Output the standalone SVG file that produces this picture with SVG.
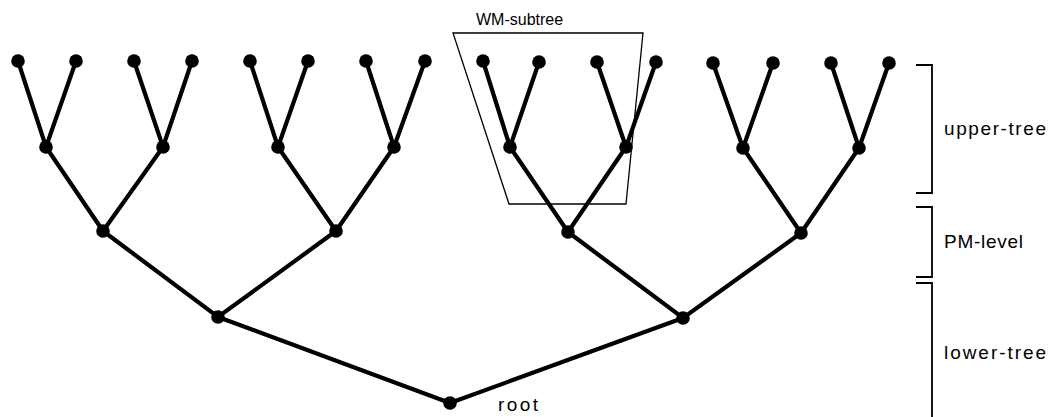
<svg xmlns="http://www.w3.org/2000/svg" width="1060" height="417" viewBox="0 0 1060 417">
  <style>
    .edge { stroke: #000; stroke-width: 4.2; stroke-linecap: round; fill: none; }
    .node circle { fill: #000; }
    .frame { stroke: #000; stroke-width: 1.3; fill: none; }
    .brace { stroke: #000; stroke-width: 1.8; fill: none; }
    .label { font-family: "Liberation Sans", Arial, sans-serif; font-size: 19px; fill: #000; }
    .title { font-family: "Liberation Sans", Arial, sans-serif; font-size: 16px; fill: #000; }
  </style>
  <rect width="1060" height="417" fill="#fff"/>

  <!-- WM-subtree outline -->
  <g id="wm-subtree">
    <polygon class="frame" points="453,33 643,33 626,204 509,204"/>
    <text class="title" x="476" y="25">WM-subtree</text>
  </g>

  <!-- tree edges -->
  <g id="connectors">
    <!-- leaves to level 1 -->
    <path class="edge" d="M18,61 L46,147 L76,61 M134,61 L163,147 L192,61 M250,61 L278,147 L308,61 M366,61 L394,147 L425,61 M483,61 L510,147 L539,62 M597,62 L626,147 L656,62 M713,63 L743,148 L773,63 M831,63 L859,148 L889,63"/>
    <!-- level 1 to PM level -->
    <path class="edge" d="M46,147 L103,231 L163,147 M278,147 L336,231 L394,147 M510,147 L568,232 L626,147 M743,148 L801,233 L859,148"/>
    <!-- PM level to lower tree -->
    <path class="edge" d="M103,231 L218,317 L336,231 M568,232 L683,318 L801,233"/>
    <!-- lower tree to root -->
    <path class="edge" d="M218,317 L450,403 L683,318"/>
  </g>

  <!-- leaf nodes -->
  <g id="leaves" class="node">
    <circle cx="18" cy="61" r="6.8"/><circle cx="76" cy="61" r="6.8"/>
    <circle cx="134" cy="61" r="6.8"/><circle cx="192" cy="61" r="6.8"/>
    <circle cx="250" cy="61" r="6.8"/><circle cx="308" cy="61" r="6.8"/>
    <circle cx="366" cy="61" r="6.8"/><circle cx="425" cy="61" r="6.8"/>
    <circle cx="483" cy="61" r="6.8"/><circle cx="539" cy="62" r="6.8"/>
    <circle cx="597" cy="62" r="6.8"/><circle cx="656" cy="62" r="6.8"/>
    <circle cx="713" cy="63" r="6.8"/><circle cx="773" cy="63" r="6.8"/>
    <circle cx="831" cy="63" r="6.8"/><circle cx="889" cy="63" r="6.8"/>
  </g>

  <!-- upper-tree inner nodes -->
  <g id="upper-nodes" class="node">
    <circle cx="46" cy="147" r="6.8"/><circle cx="163" cy="147" r="6.8"/>
    <circle cx="278" cy="147" r="6.8"/><circle cx="394" cy="147" r="6.8"/>
    <circle cx="510" cy="147" r="6.8"/><circle cx="626" cy="147" r="6.8"/>
    <circle cx="743" cy="148" r="6.8"/><circle cx="859" cy="148" r="6.8"/>
  </g>

  <!-- PM level nodes -->
  <g id="pm-nodes" class="node">
    <circle cx="103" cy="231" r="6.8"/><circle cx="336" cy="231" r="6.8"/>
    <circle cx="568" cy="232" r="6.8"/><circle cx="801" cy="233" r="6.8"/>
  </g>

  <!-- lower-tree nodes -->
  <g id="lower-nodes" class="node">
    <circle cx="218" cy="317" r="6.8"/><circle cx="683" cy="318" r="6.8"/>
  </g>

  <!-- root -->
  <g id="root" class="node">
    <circle cx="450" cy="403" r="6.8"/>
    <text class="label" x="498" y="411" textLength="40" lengthAdjust="spacing">root</text>
  </g>

  <!-- level brackets -->
  <g id="upper-tree">
    <path class="brace" d="M916,65 H932 V193 H916"/>
    <text class="label" x="944" y="135" textLength="102" lengthAdjust="spacing">upper-tree</text>
  </g>
  <g id="pm-level">
    <path class="brace" d="M916,207 H932 V277 H916"/>
    <text class="label" x="944" y="248" textLength="79" lengthAdjust="spacing">PM-level</text>
  </g>
  <g id="lower-tree">
    <path class="brace" d="M916,283 H932 V417"/>
    <text class="label" x="944" y="359" textLength="102" lengthAdjust="spacing">lower-tree</text>
  </g>
</svg>
